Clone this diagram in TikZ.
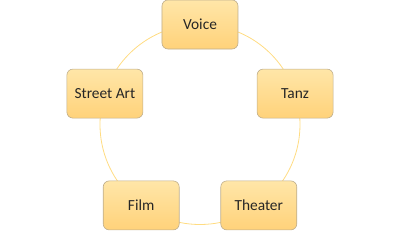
\documentclass[tikz,border=0pt]{standalone}
\usepackage{fontspec}
\setmainfont{Carlito}
\definecolor{kreis}{HTML}{FFDC82}
\definecolor{boxoben}{HTML}{FFE6A8}
\definecolor{boxunten}{HTML}{FFD27A}
\definecolor{rand}{HTML}{BFAE8C}
\begin{document}
\begin{tikzpicture}[
    x=1pt, y=1pt,
    sparte/.style={draw=rand, line width=0.6pt, rounded corners=6pt, minimum width=76pt, minimum height=49pt, align=center, top color=boxoben, bottom color=boxunten, font=\fontsize{15.4}{18}\selectfont, text=black!85},
    ring/.style={draw=kreis, line width=0.8pt}
]
\useasboundingbox (-200,-109.5) rectangle (200,124.5);
\draw[ring] (0,0) circle (100);

\node[sparte] (voice) at (90:100) {Voice};
\node[sparte] (tanz) at (18:100) {Tanz};
\node[sparte] (theater) at (-54:100) {Theater};
\node[sparte] (film) at (-126:100) {Film};
\node[sparte] (street) at (162:100) {Street Art};
\end{tikzpicture}
\end{document}
